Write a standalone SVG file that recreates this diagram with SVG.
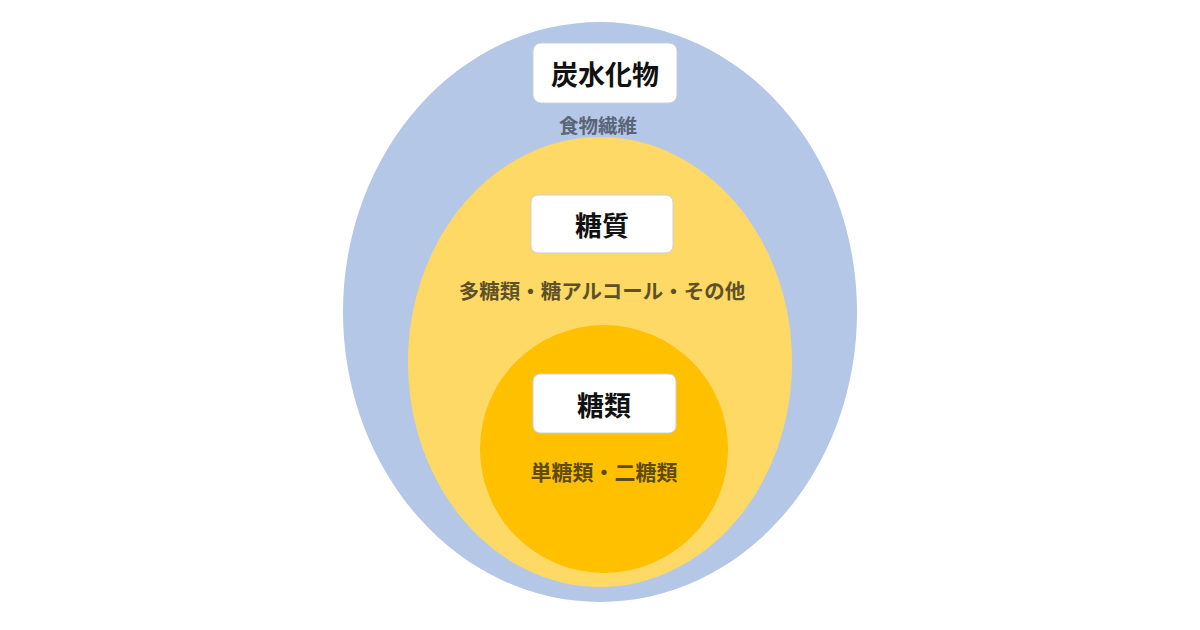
<svg xmlns="http://www.w3.org/2000/svg" width="1200" height="630" viewBox="0 0 1200 630">
<style>
.box{fill:#fff;stroke:#c9cfd9;stroke-width:1}
.title{font-family:"Noto Sans CJK JP","Noto Sans CJK SC",sans-serif;font-weight:700;font-size:27px;fill:#111;text-anchor:middle;dominant-baseline:central}
.sub{font-family:"Noto Sans CJK JP","Noto Sans CJK SC",sans-serif;font-weight:700;font-size:20.5px;text-anchor:middle;dominant-baseline:central}
</style>
<rect width="1200" height="630" fill="#fff"/>
<g id="carb">
<ellipse cx="600" cy="312" rx="257" ry="290" fill="#b4c7e7"/>
</g>
<g id="toshitsu">
<ellipse cx="600" cy="362" rx="192" ry="225" fill="#ffd966"/>
</g>
<g id="torui">
<circle cx="604" cy="449" r="124" fill="#ffc000"/>
</g>
<g id="label-carb">
<rect class="box" x="533" y="43" width="144" height="60" rx="8"/>
<text class="title" x="605" y="73">炭水化物</text>
<text class="sub" x="598" y="124" style="font-size:19.5px;fill:#5b6578">食物繊維</text>
</g>
<g id="label-toshitsu">
<rect class="box" x="531" y="195" width="142" height="58" rx="7" stroke="none"/>
<text class="title" x="602" y="224">糖質</text>
<text class="sub" x="602" y="290" style="fill:#5e5128">多糖類・糖アルコール・その他</text>
</g>
<g id="label-torui">
<rect class="box" x="533" y="374" width="143" height="59" rx="7" stroke="none"/>
<text class="title" x="604" y="404">糖類</text>
<text class="sub" x="604" y="471" style="font-size:21px;fill:#5e4b10">単糖類・二糖類</text>
</g>
<g id="connectors"/>
</svg>
